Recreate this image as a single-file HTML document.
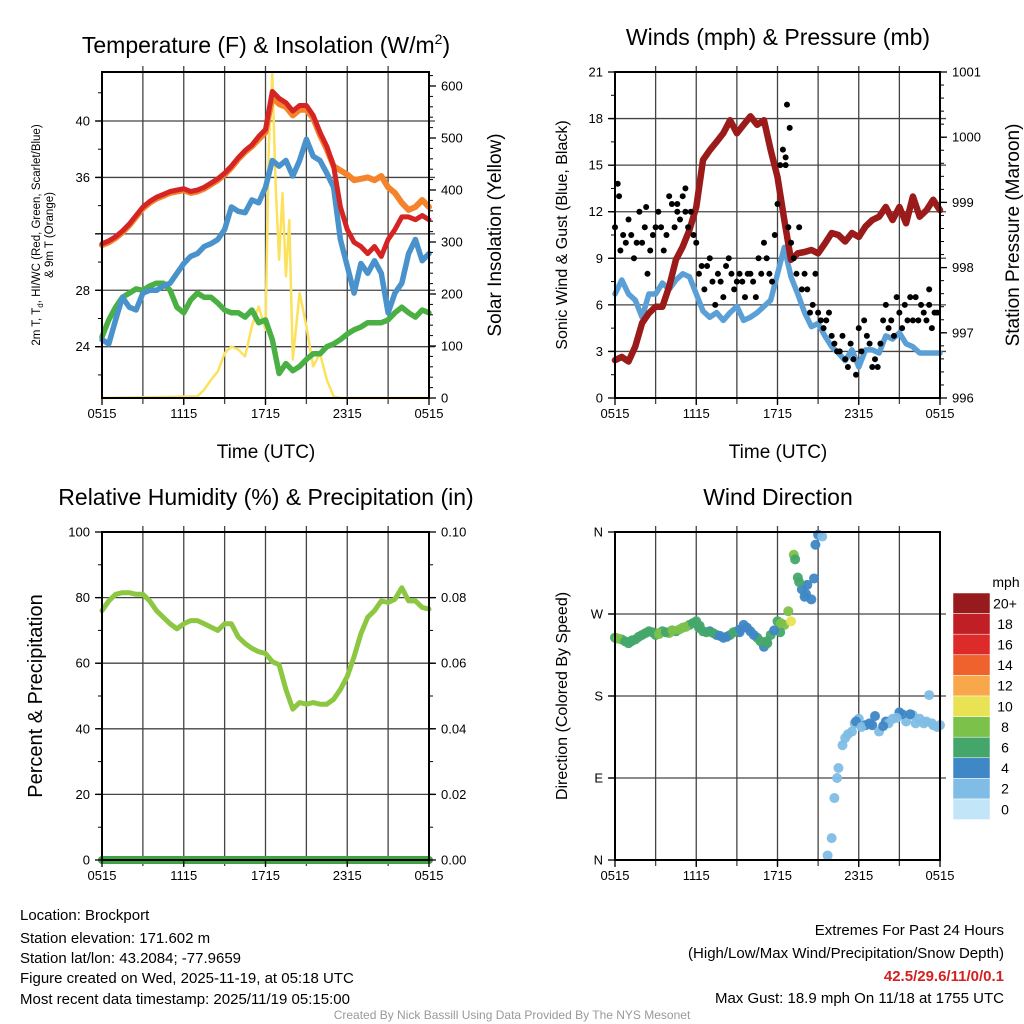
<!DOCTYPE html>
<html><head><meta charset="utf-8"><style>
html,body{margin:0;padding:0;background:#fff;}
svg{display:block;font-family:"Liberation Sans",sans-serif;}
</style></head><body>
<svg id="chart" width="1024" height="1024" viewBox="0 0 1024 1024" xmlns="http://www.w3.org/2000/svg">
<rect width="1024" height="1024" fill="#fff"/>
<text x="266" y="53" font-size="23" text-anchor="middle">Temperature (F) &amp; Insolation (W/m<tspan font-size="14" dy="-9">2</tspan><tspan dy="9">)</tspan></text>
<text x="778" y="45" font-size="23" text-anchor="middle">Winds (mph) &amp; Pressure (mb)</text>
<text x="266" y="505" font-size="23" text-anchor="middle">Relative Humidity (%) &amp; Precipitation (in)</text>
<text x="778" y="505" font-size="23" text-anchor="middle">Wind Direction</text>
<text x="266" y="458" font-size="19" text-anchor="middle">Time (UTC)</text>
<text x="778" y="458" font-size="19" text-anchor="middle">Time (UTC)</text>
<text transform="translate(40,235) rotate(-90)" font-size="11.5" text-anchor="middle">2m T, T<tspan font-size="8" dy="3">d</tspan><tspan dy="-3">, HI/WC (Red, Green, Scarlet/Blue)</tspan></text>
<text transform="translate(53,235) rotate(-90)" font-size="11.5" text-anchor="middle">&amp; 9m T (Orange)</text>
<text transform="translate(501,235) rotate(-90)" font-size="19" text-anchor="middle">Solar Insolation (Yellow)</text>
<text transform="translate(567,235) rotate(-90)" font-size="16" text-anchor="middle">Sonic Wind &amp; Gust (Blue, Black)</text>
<text transform="translate(1019,235) rotate(-90)" font-size="19" text-anchor="middle">Station Pressure (Maroon)</text>
<text transform="translate(42,696) rotate(-90)" font-size="20" text-anchor="middle">Percent &amp; Precipitation</text>
<text transform="translate(567,696) rotate(-90)" font-size="16" text-anchor="middle">Direction (Colored By Speed)</text>
<g font-size="15">
<text x="20" y="920">Location: Brockport</text>
<text x="20" y="943">Station elevation: 171.602 m</text>
<text x="20" y="963">Station lat/lon: 43.2084; -77.9659</text>
<text x="20" y="983">Figure created on Wed, 2025-11-19, at 05:18 UTC</text>
<text x="20" y="1004">Most recent data timestamp: 2025/11/19 05:15:00</text>
</g>
<g font-size="15" text-anchor="end">
<text x="1004" y="935">Extremes For Past 24 Hours</text>
<text x="1004" y="958">(High/Low/Max Wind/Precipitation/Snow Depth)</text>
<text x="1004" y="981" fill="#d42020" font-weight="bold">42.5/29.6/11/0/0.1</text>
<text x="1004" y="1003">Max Gust: 18.9 mph On 11/18 at 1755 UTC</text>
</g>
<text x="512" y="1019" font-size="12" fill="#999" text-anchor="middle">Created By Nick Bassill Using Data Provided By The NYS Mesonet</text>
</svg>
<script>
const timeLabels = ["0515","1115","1715","2315","0515"];
const halfHours = Array.from({length:49},(_,i)=>i*0.5);
const tempRed = [31.3,31.5,31.8,32.2,32.7,33.3,33.9,34.3,34.6,34.8,35.0,35.1,35.2,35.0,35.1,35.3,35.6,35.9,36.3,36.8,37.4,37.9,38.3,38.9,39.4,42.1,41.6,41.3,40.7,41.1,41.1,40.4,39.2,38.2,36.8,33.9,32.3,31.4,31.1,30.6,31.1,30.4,31.6,32.3,33.2,33.2,33.0,33.3,33.0];
const tempOrange = [31.2,31.4,31.7,32.1,32.6,33.2,33.8,34.2,34.5,34.7,34.9,35.0,35.1,34.9,35.0,35.2,35.5,35.8,36.2,36.7,37.3,37.8,38.2,38.7,39.2,41.7,41.2,41.0,40.4,40.8,40.8,40.2,39.0,38.0,36.8,36.5,36.2,35.8,35.9,36.0,35.8,36.1,35.3,34.9,34.2,33.7,33.9,34.4,33.9];
const tempBlue = [24.5,24.2,25.9,27.5,26.8,26.6,27.8,28.0,28.0,28.3,28.5,29.2,29.9,30.4,30.6,31.1,31.3,31.6,32.3,33.9,33.6,33.5,34.4,34.2,35.3,37.2,36.8,37.2,36.1,37.2,38.7,37.5,37.2,36.3,35.3,31.6,29.7,27.8,29.9,29.2,30.1,29.2,26.4,27.8,28.5,30.6,31.6,30.1,30.6];
const tempGreen = [24.7,25.9,26.8,27.5,27.8,28.1,28.0,28.3,28.5,28.5,28.0,26.8,26.4,27.3,27.8,27.5,27.5,27.1,26.6,26.4,26.4,26.1,26.6,25.7,25.9,24.5,22.1,22.8,22.3,22.6,23.1,23.5,23.5,24.0,24.2,24.5,24.9,25.2,25.4,25.7,25.7,25.7,25.9,26.4,26.8,26.4,26.1,26.6,26.4];
const solarTimes = [0,7,7.5,8,8.5,9,9.5,10,10.5,11,11.5,12,12.25,12.5,12.75,13,13.25,13.5,13.75,14,14.5,15,15.5,16,16.5,17,17.5,24];
const solarVals = [0,3,16,35,51,86,99,93,80,138,176,131,490,624,406,266,394,234,342,74,202,138,61,86,35,3,0,0];
const pressure = [996.58,996.63,996.56,996.79,997.15,997.30,997.40,997.40,997.71,998.12,998.32,998.58,998.93,999.65,999.80,999.93,1000.06,1000.26,1000.06,1000.19,1000.32,1000.19,1000.26,999.80,999.39,998.73,998.12,998.22,998.24,998.27,998.22,998.37,998.53,998.50,998.40,998.53,998.47,998.63,998.73,998.78,998.93,998.73,998.93,998.68,999.09,998.78,998.88,999.04,998.88];
const windSpeed = [6.7,7.6,6.7,6.3,5.2,6.7,6.7,7.4,7.0,7.6,8.0,7.8,6.7,5.6,5.2,5.5,5.0,5.5,5.9,5.0,5.2,5.5,5.9,6.3,8.0,9.7,7.8,6.7,5.5,4.6,4.8,4.0,3.3,2.9,2.4,3.1,2.0,3.1,3.1,2.9,4.0,3.8,4.2,3.5,3.3,2.9,2.9,2.9,2.9];
const gustVals = [11,13.8,9.5,10.5,10, 11.5,10.5,9,10,12, 10,11,8,9.5,10.5, 11,12,11,9.5,10.5, 13,12.5,11,12.5,11.5, 13,12,11,12,10.5, 10,8,8.5,7,8.5, 9,7.5,6,8,7.5, 6.5,8.5,9,8,7, 7.5,8,7.5,6.5,8, 8,7.5,6.5,9,8, 10,9,8,7.5,10.5, 12.5,15,16,15,11, 10,9,8,11,7, 8,7,5.5,6,8, 5.5,5,4.5,5,5.5, 4,3.5,3,3,4, 2.5,2,3.5,2.5,1.5, 4.5,3,5,4,3.5, 2,2.5,2,3.5,5, 6,4.5,5,4,6.5, 5.5,4.5,6,5,6.5, 5,6.5,5,6,5.5, 5,6,4.5,5.5,5.5];
const gustTimes = gustVals.map((_,i)=>i*0.2);
const extraGustTimes = [12.7,12.9,0.3,4.6,5.2,2.3,12.6,23.2];
const extraGustVals = [18.9,17.4,13.0,12.0,13.5,12.3,15.5,7.0];
const rhVals = [76,79,81,81.5,81.5,81,81,79,76,74,72,70.5,72,73,73,72,71,70,72,72,68,66,64.5,63.5,63,60.5,59.5,52,46,48,47.5,48,47.5,47.5,49,52,56,62,69,74,76,79,78.5,79.5,83,79,79,77,76.5];
const precipVals = halfHours.map(()=>0);
const dirTimes = [0,0.5,1,1.5,2,2.5,3,3.5,4,4.5,5,5.5,6,6.5,7,7.5,8,8.5,9,9.5,10,10.5,11,11.5,12,12.5,12.8,13,13.2,13.5,13.8,14,14.2,14.5,14.7,14.8,15,15.3,15.7,16,16.2,16.4,16.5,16.8,17,17.5,18,18.5,19,19.5,20,20.5,21,21.5,22,22.5,23,23.5,24,0.2,1.2,3.2,4.2,6.2,9.2,11.2,12.2,13.3,17.7,19.2,20.2,21.2,22.2,23.2,23.8,0.25,0.75,1.25,1.75,2.25,2.75,3.25,3.75,4.25,4.75,5.25,5.75,6.25,6.75,7.25,7.75,8.25,8.75,9.25,9.75,10.25,10.75,11.25,11.75,12.25,13.6,14.1,17.2,17.8,18.2,18.8,19.8,20.8,21.8,22.8,23.4];
const dirVals = [244,242,238,242,247,251,247,251,249,251,255,258,262,251,251,247,244,247,251,258,251,244,234,247,262,258,273,262,335,310,297,289,302,286,309,346,357,355,5,24,68,90,101,126,134,141,155,148,148,141,152,155,162,152,159,155,152,148,148,243,240,249,252,255,250,240,250,330,150,158,150,160,150,181,146,243,240,241,245,249,250,248,250,252,253,256,260,257,250,249,246,245,250,253,255,247,240,238,252,260,305,292,138,152,146,150,147,156,160,150,150];
const dirSpeeds = [7,7,6,6,7,6,7,7,8,7,8,7,6,6,5,4,5,6,5,4,5,6,5,6,7,8,9,10,8,6,5,5,4,4,4,4,4,2,2,2,2,2,2,2,3,2,2,4,4,2,4,3,4,2,3,2,2,2,2,8,6,8,8,6,4,6,7,7,2,4,2,4,2,2,2,8,6,7,6,6,7,8,7,8,8,8,7,6,6,6,5,4,6,5,4,5,6,6,5,8,6,5,2,4,2,4,4,2,4,2,2];
const speedBins = ["0","2","4","6","8","10","12","14","16","18","20+"];
const speedColors = ["#c3e5f8","#80bde6","#3f87c5","#45a66c","#7cc14a","#e9e255","#f8a84a","#ef622d","#dc2b2a","#c01f25","#971a1c"];

const NS="http://www.w3.org/2000/svg";
const svg=document.getElementById('chart');
function mk(tag,attrs,parent){const e=document.createElementNS(NS,tag);for(const k in attrs)e.setAttribute(k,attrs[k]);(parent||svg).appendChild(e);return e;}
function lin(d0,d1,r0,r1){return v=>r0+(v-d0)*(r1-r0)/(d1-d0);}
function pathD(xs,ys,fx,fy){let d="";for(let i=0;i<xs.length;i++){if(ys[i]==null)continue;d+=(d?"L":"M")+fx(xs[i]).toFixed(1)+","+fy(ys[i]).toFixed(1);}return d;}

const P=[{x0:102,x1:429,y0:72,y1:398},{x0:615,x1:940,y0:72,y1:398},{x0:102,x1:429,y0:532,y1:860},{x0:615,x1:940,y0:532,y1:860}];
const yT=lin(24,40,346.7,121), yS=lin(0,600,398,86), yW=lin(0,21,398,72), yP=lin(996,1001,398,72), yR=lin(0,100,860,532), yPr=lin(0,0.1,860,532), yD=lin(0,360,860,532);

function grid(p,hVals,fy,name){
  const g=mk('g',{});
  
  
  const fx=lin(0,24,p.x0,p.x1);
  for(let h=3;h<24;h+=3){const l=mk('line',{x1:fx(h),x2:fx(h),y1:p.y0-6,y2:p.y1+6,stroke:'#444','stroke-width':1.3},g);
    
    }
  hVals.forEach(v=>{const l=mk('line',{x1:p.x0-6,x2:p.x1+6,y1:fy(v),y2:fy(v),stroke:'#444','stroke-width':1.3},g);
    
    });
}
function frame(p,name){
  const r=mk('rect',{x:p.x0,y:p.y0,width:p.x1-p.x0,height:p.y1-p.y0,fill:'none',stroke:'#000','stroke-width':2});
  
  
  const fx=lin(0,24,p.x0,p.x1);
  const g=mk('g',{'font-size':13,'text-anchor':'middle'});
  
  
  timeLabels.forEach((t,i)=>{const x=fx(i*6);
    mk('line',{x1:x,x2:x,y1:p.y1,y2:p.y1+7,stroke:'#000','stroke-width':1.3},g);
    const tx=mk('text',{x:x,y:p.y1+20},g);tx.textContent=t;
    
    });
}
function yaxis(p,side,fy,major,minor,labels,name){
  const g=mk('g',{'font-size':13,'text-anchor':side==='l'?'end':'start'});
  
  
  const x=side==='l'?p.x0:p.x1, d=side==='l'?-1:1;
  minor.forEach(v=>mk('line',{x1:x,x2:x+d*4,y1:fy(v),y2:fy(v),stroke:'#000','stroke-width':1},g));
  major.forEach((v,i)=>{mk('line',{x1:x,x2:x+d*7,y1:fy(v),y2:fy(v),stroke:'#000','stroke-width':1.3},g);
    if(labels[i]!==''){const t=mk('text',{x:x+d*12,y:fy(v)+4.5},g);t.textContent=labels[i];
      
      }});
}
function range(a,b,s){const r=[];for(let v=a;v<=b+1e-9;v+=s)r.push(+v.toFixed(4));return r;}
function line(xs,ys,fx,fy,color,w,name){const e=mk('path',{d:pathD(xs,ys,fx,fy),fill:'none',stroke:color,'stroke-width':w,'stroke-linejoin':'round','stroke-linecap':'round'});
  
  return e;}

// Panel 1
grid(P[0],[24,28,32,36,40],yT,'temp');
const fx1=lin(0,24,P[0].x0,P[0].x1);
line(solarTimes,solarVals,fx1,yS,'#fce25c',2.5,'solar-insolation-line');
line(halfHours,tempGreen,fx1,yT,'#4bb043',5.5,'dewpoint-line');
line(halfHours,tempBlue,fx1,yT,'#4a92cb',5.5,'wind-chill-line');
line(halfHours,tempOrange,fx1,yT,'#f5832b',6,'temp-9m-line');
line(halfHours,tempRed,fx1,yT,'#d42424',5,'temp-2m-line');
frame(P[0],'temp');
yaxis(P[0],'l',yT,[24,28,32,36,40],[22,26,30,34,38,42],['24','28','','36','40'],'temp-y-axis');
yaxis(P[0],'r',yS,range(0,600,100),range(0,620,20),['0','100','200','300','400','500','600'],'solar-y-axis');

// Panel 2
grid(P[1],[3,6,9,12,15,18],yW,'wind');
const fx2=lin(0,24,P[1].x0,P[1].x1);
line(halfHours,windSpeed,fx2,yW,'#5b9fd7',5.5,'wind-speed-line');
line(halfHours,pressure,fx2,yP,'#9b1b1b',6.5,'pressure-line');
const gg=mk('g',{fill:'#000'});


gustTimes.concat(extraGustTimes).forEach((t,i)=>{const v=i<gustVals.length?gustVals[i]:extraGustVals[i-gustVals.length];
  const c=mk('circle',{cx:fx2(t),cy:yW(v),r:3},gg);
  
  });
frame(P[1],'wind');
yaxis(P[1],'l',yW,range(0,21,3),range(0,21,1.5),['0','3','6','9','12','15','18','21'],'wind-y-axis');
yaxis(P[1],'r',yP,range(996,1001,1),range(996,1001,0.2),['996','997','998','999','1000','1001'],'pressure-y-axis');

// Panel 3
grid(P[2],[20,40,60,80],yR,'rh');
const fx3=lin(0,24,P[2].x0,P[2].x1);
line(halfHours,rhVals,fx3,yR,'#8dc641',5,'relative-humidity-line');
line(halfHours,precipVals,fx3,yPr,'#3fa243',8,'precipitation-line');
frame(P[2],'rh');
yaxis(P[2],'l',yR,range(0,100,20),range(0,100,10),['0','20','40','60','80','100'],'rh-y-axis');
yaxis(P[2],'r',yPr,range(0,0.1,0.02),range(0,0.1,0.01),['0.00','0.02','0.04','0.06','0.08','0.10'],'precip-y-axis');

// Panel 4
grid(P[3],[90,180,270],yD,'dir');
const fx4=lin(0,24,P[3].x0,P[3].x1);
const dg=mk('g',{});


dirTimes.forEach((t,i)=>{const bin=Math.min(10,Math.floor(dirSpeeds[i]/2));
  const c=mk('circle',{cx:fx4(t),cy:yD(dirVals[i]),r:5,fill:speedColors[bin],'fill-opacity':0.95},dg);
  
  });
frame(P[3],'dir');
yaxis(P[3],'l',yD,[0,90,180,270,360],[],['N','E','S','W','N'],'dir-y-axis');

// colorbar
const cb=mk('g',{'font-size':14});


const cbTop=593, cbH=20.6;
speedBins.forEach((lab,i)=>{const k=10-i;const y=cbTop+i*cbH;
  const r=mk('rect',{x:953,y:y,width:37,height:cbH,fill:speedColors[k],stroke:'#fff','stroke-width':0.5},cb);
  
  
  const t=mk('text',{x:1005,y:y+cbH/2+5,'text-anchor':'middle'},cb);t.textContent=speedBins[k];
  
  });
const mph=mk('text',{x:1006,y:587,'text-anchor':'middle'},cb);mph.textContent='mph';


</script>
</body></html>
